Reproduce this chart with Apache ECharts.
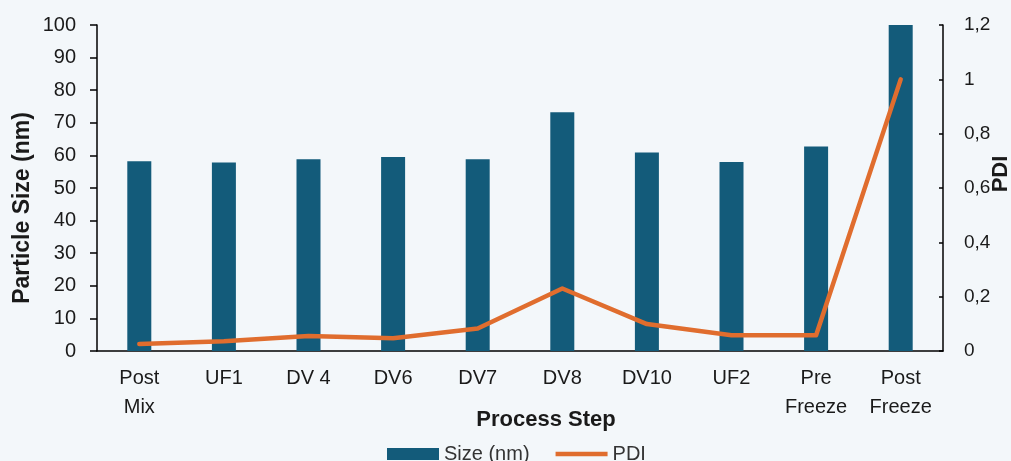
<!DOCTYPE html>
<html>
<head>
<meta charset="utf-8">
<script src="https://cdn.jsdelivr.net/npm/echarts@6/dist/echarts.min.js"></script>
<style>
  html, body { margin: 0; padding: 0; background: #f3f7fa; }
  #chart { width: 1011px; height: 461px; }
</style>
</head>
<body>
<div id="chart"></div>
<script>
// Process steps along the x axis
const categories = ['Post\nMix', 'UF1', 'DV 4', 'DV6', 'DV7', 'DV8', 'DV10', 'UF2', 'Pre\nFreeze', 'Post\nFreeze'];
// Particle size per step (nm), left axis
const sizeNm = [58.2, 57.8, 58.8, 59.5, 58.8, 73.2, 60.9, 58.0, 62.7, 100];
// Polydispersity index per step, right axis
const pdi = [0.026, 0.036, 0.055, 0.047, 0.083, 0.23, 0.099, 0.058, 0.058, 1.0];

const FONT = '"Liberation Sans", Arial, sans-serif';
const INK = '#1a1a1a';
const BAR_COLOR = '#135b7a';
const LINE_COLOR = '#e06d2e';

const chart = echarts.init(document.getElementById('chart'), null, { renderer: 'canvas' });

chart.setOption({
  backgroundColor: '#f3f7fa',
  animation: false,
  textStyle: { fontFamily: FONT },
  grid: { left: 97, right: 68, top: 25, bottom: 110, containLabel: false, outerBoundsMode: 'none' },
  legend: {
    left: 382,
    top: 439,
    itemWidth: 52,
    itemHeight: 12,
    itemGap: 26,
    textStyle: { fontSize: 20, color: '#333', fontFamily: FONT },
    data: [
      { name: 'Size (nm)', icon: 'rect', itemStyle: { color: BAR_COLOR } },
      { name: 'PDI', icon: 'path://M0,0 L55,0 L55,4.5 L0,4.5 Z', itemStyle: { color: LINE_COLOR } }
    ]
  },
  xAxis: {
    type: 'category',
    data: categories,
    name: 'Process Step',
    nameLocation: 'middle',
    nameGap: 58,
    nameMoveOverlap: false,
    nameTextStyle: { fontSize: 22, fontWeight: 'bold', color: INK, fontFamily: FONT, padding: [0, 0, 0, 52] },
    axisLine: { lineStyle: { color: '#000', width: 1.5 } },
    axisTick: { alignWithLabel: true, length: 5, lineStyle: { color: '#000', width: 1.5 } },
    axisLabel: { fontSize: 20, color: INK, margin: 13, lineHeight: 29, interval: 0 },
    splitLine: { show: false }
  },
  yAxis: [
    {
      type: 'value',
      min: 0,
      max: 100,
      interval: 10,
      name: 'Particle Size (nm)',
      nameLocation: 'middle',
      nameGap: 63,
      nameMoveOverlap: false,
      nameRotate: 90,
      nameTextStyle: { fontSize: 23, fontWeight: 'bold', color: INK, fontFamily: FONT, padding: [0, 40, 0, 0] },
      axisLine: { show: true, lineStyle: { color: '#000', width: 1.5 } },
      axisTick: { show: true, length: 7, lineStyle: { color: '#000', width: 1.5 } },
      axisLabel: { fontSize: 20, color: INK, margin: 21 },
      splitLine: { show: false }
    },
    {
      type: 'value',
      min: 0,
      max: 1.2,
      interval: 0.2,
      position: 'right',
      name: 'PDI',
      nameLocation: 'middle',
      nameGap: 47,
      nameMoveOverlap: false,
      nameRotate: 90,
      nameTextStyle: { fontSize: 22, fontWeight: 'bold', color: INK, fontFamily: FONT, padding: [0, 0, 0, 28] },
      axisLine: { show: true, lineStyle: { color: '#000', width: 1.5 } },
      axisTick: { show: true, inside: true, length: 4, lineStyle: { color: '#000', width: 1.5 } },
      axisLabel: {
        fontSize: 19,
        color: INK,
        margin: 21,
        formatter: v => String(Math.round(v * 10) / 10).replace('.', ',')
      },
      splitLine: { show: false }
    }
  ],
  series: [
    {
      name: 'Size (nm)',
      type: 'bar',
      yAxisIndex: 0,
      data: sizeNm,
      barWidth: 24,
      itemStyle: { color: BAR_COLOR }
    },
    {
      name: 'PDI',
      type: 'line',
      yAxisIndex: 1,
      data: pdi,
      symbol: 'none',
      lineStyle: { color: LINE_COLOR, width: 4.5, cap: 'round', join: 'round' },
      itemStyle: { color: LINE_COLOR }
    }
  ]
});
</script>
</body>
</html>
